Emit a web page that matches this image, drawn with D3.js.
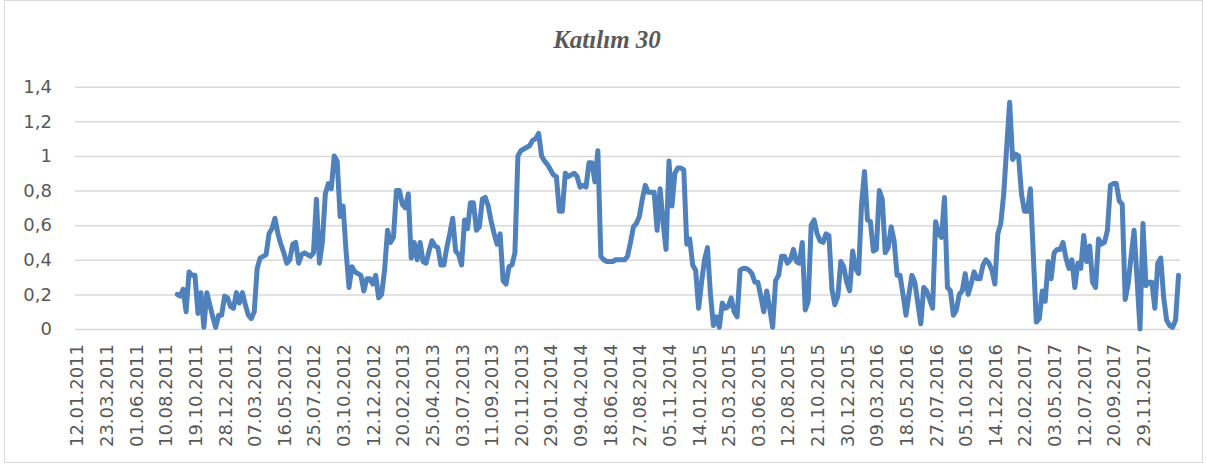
<!DOCTYPE html>
<html>
<head>
<meta charset="utf-8">
<script src="https://cdn.jsdelivr.net/npm/d3@7"></script>
<style>
  html, body { margin: 0; padding: 0; background: #ffffff; }
  svg { display: block; }
</style>
</head>
<body>
<svg id="chart" width="1207" height="468"></svg>
<script>
// ---- data ----
const title = "Katılım 30";
const categoryCount = 373;            // weekly categories on the x axis
const tickEvery = 10;                 // a tick label every 10 categories
const tickLabels = ["12.01.2011","23.03.2011","01.06.2011","10.08.2011","19.10.2011","28.12.2011",
  "07.03.2012","16.05.2012","25.07.2012","03.10.2012","12.12.2012",
  "20.02.2013","25.04.2013","03.07.2013","11.09.2013","20.11.2013",
  "29.01.2014","09.04.2014","18.06.2014","27.08.2014","05.11.2014",
  "14.01.2015","25.03.2015","03.06.2015","12.08.2015","21.10.2015","30.12.2015",
  "09.03.2016","18.05.2016","27.07.2016","05.10.2016","14.12.2016",
  "22.02.2017","03.05.2017","12.07.2017","20.09.2017","29.11.2017"];
const yTicks = [0, 0.2, 0.4, 0.6, 0.8, 1.0, 1.2, 1.4];
const values = [
  null,null,null,null,null,null,null,null,null,null,
  null,null,null,null,null,null,null,null,null,null,
  null,null,null,null,null,null,null,null,null,null,
  null,null,null,null,
  0.20,0.19,0.23,0.10,0.33,0.31,0.31,0.09,0.21,0.01,
  0.21,0.14,0.07,0.01,0.08,0.08,0.19,0.18,0.13,0.12,
  0.21,0.15,0.21,0.14,0.08,0.06,0.10,0.35,0.41,0.42,
  0.43,0.55,0.58,0.64,0.55,0.49,0.44,0.38,0.40,0.49,
  0.50,0.38,0.43,0.44,0.43,0.42,0.44,0.75,0.38,0.50,
  0.78,0.84,0.81,1.00,0.97,0.65,0.71,0.45,0.24,0.36,
  0.33,0.32,0.31,0.22,0.29,0.29,0.26,0.31,0.18,0.20,
  0.34,0.57,0.50,0.53,0.80,0.80,0.72,0.70,0.78,0.41,
  0.50,0.40,0.50,0.39,0.38,0.45,0.51,0.48,0.47,0.37,
  0.37,0.47,0.55,0.64,0.45,0.43,0.37,0.63,0.58,0.73,
  0.73,0.57,0.59,0.75,0.76,0.71,0.62,0.55,0.49,0.55,
  0.28,0.26,0.36,0.37,0.44,1.00,1.03,1.04,1.05,1.06,
  1.09,1.10,1.13,1.00,0.97,0.95,0.92,0.89,0.88,0.68,
  0.68,0.90,0.88,0.89,0.90,0.88,0.82,0.83,0.82,0.96,
  0.96,0.85,1.03,0.42,0.40,0.39,0.39,0.39,0.40,0.40,
  0.40,0.40,0.42,0.50,0.59,0.61,0.65,0.75,0.83,0.79,
  0.79,0.79,0.57,0.81,0.62,0.46,0.97,0.71,0.90,0.93,
  0.93,0.92,0.49,0.52,0.37,0.34,0.12,0.27,0.40,0.47,
  0.20,0.02,0.07,0.01,0.15,0.12,0.13,0.18,0.10,0.07,
  0.34,0.35,0.35,0.34,0.32,0.27,0.27,0.19,0.10,0.22,
  0.12,0.01,0.28,0.31,0.42,0.42,0.38,0.40,0.46,0.39,
  0.38,0.50,0.11,0.16,0.60,0.63,0.55,0.51,0.50,0.55,
  0.54,0.23,0.14,0.19,0.39,0.36,0.27,0.22,0.45,0.35,
  0.32,0.72,0.91,0.63,0.62,0.45,0.46,0.80,0.75,0.44,
  0.47,0.59,0.51,0.31,0.31,0.20,0.08,0.20,0.31,0.27,
  0.15,0.03,0.24,0.22,0.17,0.12,0.62,0.55,0.53,0.76,
  0.24,0.22,0.08,0.11,0.20,0.22,0.32,0.20,0.26,0.33,
  0.29,0.29,0.37,0.40,0.38,0.34,0.26,0.55,0.61,0.78,
  1.05,1.31,0.98,1.01,1.00,0.78,0.68,0.68,0.81,0.42,
  0.04,0.06,0.22,0.16,0.39,0.29,0.44,0.46,0.46,0.50,
  0.41,0.35,0.40,0.24,0.38,0.35,0.54,0.39,0.48,0.27,
  0.24,0.52,0.49,0.50,0.57,0.83,0.84,0.84,0.74,0.72,
  0.17,0.26,0.42,0.57,0.29,0.00,0.61,0.25,0.27,0.27,
  0.12,0.38,0.41,0.18,0.05,0.02,0.01,0.05,0.31
];

// ---- layout ----
const W = 1207, H = 468;
const plot = { left: 75, right: 1180, top: 86.7, bottom: 329 };
const textColor = "#595959";
const gridColor = "#d9d9d9";
const lineColor = "#4f81bd";
const axisFont = "'DejaVu Sans', sans-serif";

const svg = d3.select("#chart");

// chart border
svg.append("rect")
  .attr("x", 4.5).attr("y", 0.5)
  .attr("width", 1198).attr("height", 462)
  .attr("fill", "#ffffff")
  .attr("stroke", gridColor).attr("stroke-width", 1);

const categories = d3.range(categoryCount);
const x = d3.scalePoint().domain(categories).range([plot.left, plot.right]).padding(0.5);
const y = d3.scaleLinear().domain([0, 1.4]).range([plot.bottom, plot.top]);

const locale = d3.formatLocale({ decimal: ",", thousands: ".", grouping: [3], currency: ["", ""] });
const fmt = locale.format(".1~f");

// y axis with gridlines
const yAxis = svg.append("g")
  .attr("transform", `translate(${plot.left},0)`)
  .call(d3.axisLeft(y).tickValues(yTicks).tickFormat(fmt)
    .tickSize(-(plot.right - plot.left)).tickPadding(23));
yAxis.select(".domain").remove();
yAxis.selectAll(".tick line").attr("stroke", gridColor).attr("stroke-width", 1.5);
yAxis.selectAll(".tick text")
  .attr("fill", textColor)
  .style("font-family", axisFont).style("font-size", "18px");

// x axis
const tickCats = categories.filter(i => i % tickEvery === 0 && i / tickEvery < tickLabels.length);
const xAxis = svg.append("g")
  .attr("transform", `translate(0,${plot.bottom})`)
  .call(d3.axisBottom(x).tickValues(tickCats).tickFormat(i => tickLabels[i / tickEvery]).tickSize(0));
xAxis.select(".domain").remove();
xAxis.selectAll(".tick text")
  .attr("transform", "rotate(-90)")
  .attr("x", -15).attr("y", 0).attr("dy", "0.36em")
  .style("text-anchor", "end")
  .attr("fill", textColor)
  .style("font-family", axisFont).style("font-size", "18px");

// line
const line = d3.line()
  .defined(d => d != null)
  .x((d, i) => x(i))
  .y(d => y(d));
svg.append("path")
  .datum(values)
  .attr("d", line)
  .attr("fill", "none")
  .attr("stroke", lineColor)
  .attr("stroke-width", 5)
  .attr("stroke-linejoin", "round")
  .attr("stroke-linecap", "round");

// title
svg.append("text")
  .attr("x", 607).attr("y", 48)
  .attr("text-anchor", "middle")
  .attr("fill", textColor)
  .style("font-family", "'Liberation Serif', serif")
  .style("font-weight", "bold").style("font-style", "italic")
  .style("font-size", "25px")
  .text(title);
</script>
</body>
</html>
